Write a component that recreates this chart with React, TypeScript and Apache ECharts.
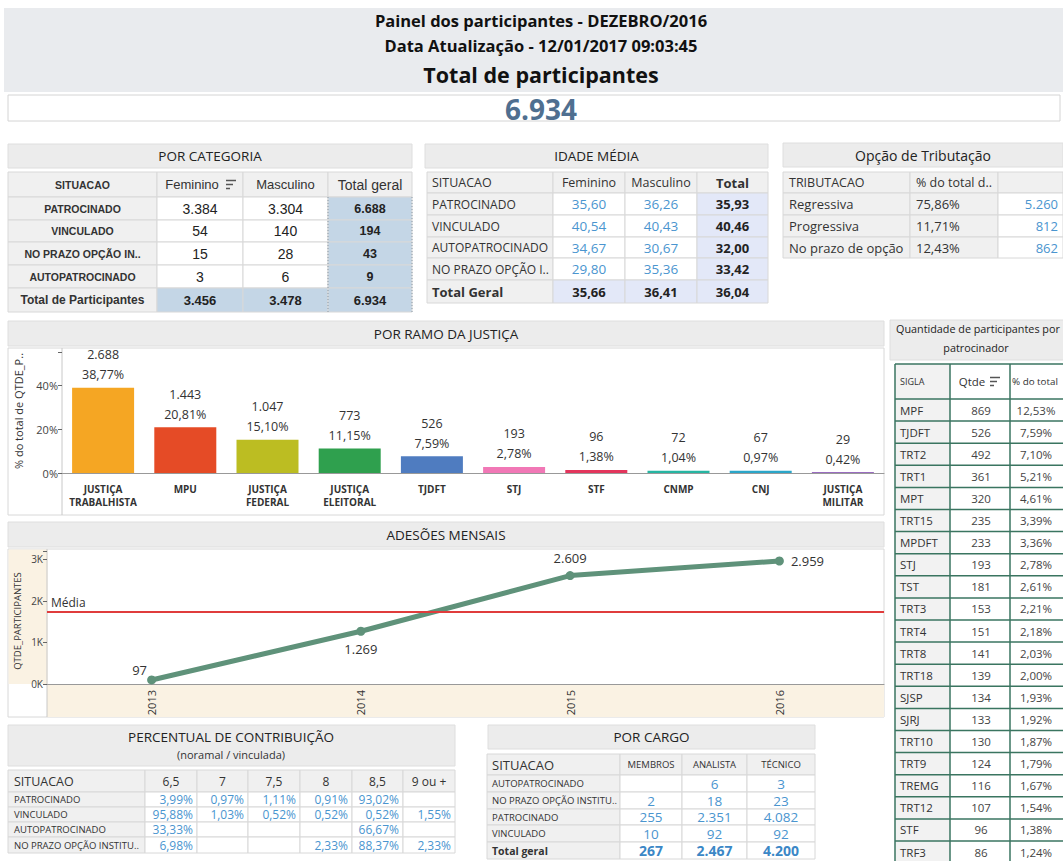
import React, { useEffect, useRef } from 'react';
import * as echarts from 'echarts';

// ---------- DATA ----------
const headerTitle = 'Painel dos participantes - DEZEBRO/2016';
const headerDate = 'Data Atualização - 12/01/2017 09:03:45';
const headerTotalLabel = 'Total de participantes';
const totalParticipantes = 6934;

// POR CATEGORIA
const catHeaders = ['SITUACAO', 'Feminino', 'Masculino', 'Total geral'];
const catSituacao = ['PATROCINADO', 'VINCULADO', 'NO PRAZO OPÇÃO IN..', 'AUTOPATROCINADO'];
const catFeminino = [3384, 54, 15, 3];
const catMasculino = [3304, 140, 28, 6];
const catTotal = [6688, 194, 43, 9];
const catTotalLabel = 'Total de Participantes';
const catTotalRow = [3456, 3478, 6934];

// IDADE MÉDIA
const idadeHeaders = ['SITUACAO', 'Feminino', 'Masculino', 'Total'];
const idadeSituacao = ['PATROCINADO', 'VINCULADO', 'AUTOPATROCINADO', 'NO PRAZO OPÇÃO I..'];
const idadeFeminino = [35.6, 40.54, 34.67, 29.8];
const idadeMasculino = [36.26, 40.43, 30.67, 35.36];
const idadeTotal = [35.93, 40.46, 32.0, 33.42];
const idadeTotalLabel = 'Total Geral';
const idadeTotalRow = [35.66, 36.41, 36.04];

// OPÇÃO DE TRIBUTAÇÃO
const tribHeaders = ['TRIBUTACAO', '% do total d..', ''];
const tribTipos = ['Regressiva', 'Progressiva', 'No prazo de opção'];
const tribPct = [75.86, 11.71, 12.43];
const tribQtde = [5260, 812, 862];

// POR RAMO DA JUSTIÇA
const ramoCategorias = ['JUSTIÇA\nTRABALHISTA', 'MPU', 'JUSTIÇA\nFEDERAL', 'JUSTIÇA\nELEITORAL', 'TJDFT', 'STJ', 'STF', 'CNMP', 'CNJ', 'JUSTIÇA\nMILITAR'];
const ramoQtde = [2688, 1443, 1047, 773, 526, 193, 96, 72, 67, 29];
const ramoPct = [38.77, 20.81, 15.1, 11.15, 7.59, 2.78, 1.38, 1.04, 0.97, 0.42];
const ramoYTicks = [0, 20, 40];

// ADESÕES MENSAIS
const adesaoAnos = ['2013', '2014', '2015', '2016'];
const adesaoQtde = [97, 1269, 2609, 2959];
const adesaoYTicks = [0, 1000, 2000, 3000];

// PERCENTUAL DE CONTRIBUIÇÃO
const contribHeaders = ['SITUACAO', '6,5', '7', '7,5', '8', '8,5', '9 ou +'];
const contribSituacao = ['PATROCINADO', 'VINCULADO', 'AUTOPATROCINADO', 'NO PRAZO OPÇÃO INSTITU..'];
const contribPatrocinado = [3.99, 0.97, 1.11, 0.91, 93.02, null];
const contribVinculado = [95.88, 1.03, 0.52, 0.52, 0.52, 1.55];
const contribAutopatrocinado = [33.33, null, null, null, 66.67, null];
const contribNoPrazo = [6.98, null, null, 2.33, 88.37, 2.33];

// POR CARGO
const cargoHeaders = ['SITUACAO', 'MEMBROS', 'ANALISTA', 'TÉCNICO'];
const cargoSituacao = ['AUTOPATROCINADO', 'NO PRAZO OPÇÃO INSTITU..', 'PATROCINADO', 'VINCULADO'];
const cargoMembros = [null, 2, 255, 10];
const cargoAnalista = [6, 18, 2351, 92];
const cargoTecnico = [3, 23, 4082, 92];
const cargoTotalLabel = 'Total geral';
const cargoTotalRow = [267, 2467, 4200];

// PARTICIPANTES POR PATROCINADOR
const patrHeaders = ['SIGLA', 'Qtde', '% do total'];
const patrSigla = ['MPF', 'TJDFT', 'TRT2', 'TRT1', 'MPT', 'TRT15', 'MPDFT', 'STJ', 'TST', 'TRT3', 'TRT4', 'TRT8', 'TRT18', 'SJSP', 'SJRJ', 'TRT10', 'TRT9', 'TREMG', 'TRT12', 'STF', 'TRF3'];
const patrQtde = [869, 526, 492, 361, 320, 235, 233, 193, 181, 153, 151, 141, 139, 134, 133, 130, 124, 116, 107, 96, 86];
const patrPct = [12.53, 7.59, 7.1, 5.21, 4.61, 3.39, 3.36, 2.78, 2.61, 2.21, 2.18, 2.03, 2.0, 1.93, 1.92, 1.87, 1.79, 1.67, 1.54, 1.38, 1.24];

// ---------- STYLE ----------
const FONT = "'Open Sans', 'Noto Sans', sans-serif";
const ARIAL = "'Liberation Sans', Arial, sans-serif";
const BLUE = '#4a95cf';
const TXT = '#333333';
const GREY = '#f0f0f0';
const BARBG = '#ececec';
const BORDER = '#d8d8d8';
const ramoColors = ['#f5a623', '#e54b26', '#bcbd22', '#2fa04e', '#4f7cc0', '#f178b6', '#e3355c', '#26b5a2', '#2ba6c9', '#9a6cc0'];

const fmtInt = (n: number) => String(n).replace(/\B(?=(\d{3})+(?!\d))/g, '.');
const fmtDec = (n: number) => n.toFixed(2).replace('.', ',');
const fmtPct = (n: number) => fmtDec(n) + '%';

function buildGraphics() {
  const G: any[] = [];
  const R = (x: number, y: number, w: number, h: number, fill: string, stroke = 'none', lw = 1) =>
    G.push({ type: 'rect', shape: { x, y, width: w, height: h }, style: { fill, stroke, lineWidth: lw } });
  const L = (x1: number, y1: number, x2: number, y2: number, stroke: string, lw = 1, dash?: number[]) =>
    G.push({ type: 'line', shape: { x1, y1, x2, y2 }, style: { stroke, lineWidth: lw, lineDash: dash } });
  const T = (x: number, y: number, text: string, size: number, o: any = {}) =>
    G.push({
      type: 'text', x, y, rotation: o.rot || 0,
      style: {
        text, fill: o.color || TXT, fontSize: size, fontWeight: o.bold ? 'bold' : 'normal',
        fontFamily: o.font || FONT, align: o.align || 'center', verticalAlign: 'middle',
      },
    });
  const titleBar = (x: number, y: number, w: number, h: number, text: string, size = 13.5) => {
    R(x, y, w, h, BARBG, '#dedede');
    T(x + w / 2, y + h / 2, text, size, { color: '#222' });
  };
  const sortIcon = (x: number, y: number, c = '#555') => {
    L(x, y, x + 10, y, c, 1.5);
    L(x, y + 4, x + 7, y + 4, c, 1.5);
    L(x, y + 8, x + 4, y + 8, c, 1.5);
  };

  // Header
  R(4, 8, 1059, 84, '#e9ebee');
  T(541, 20, headerTitle, 16.5, { bold: true, color: '#111' });
  T(541, 45, headerDate, 16.5, { bold: true, color: '#111' });
  T(541, 74, headerTotalLabel, 21.5, { bold: true, color: '#111' });
  R(8, 95, 1052, 26, '#ffffff', '#d4d4d4');
  T(541, 109, fmtInt(totalParticipantes), 28, { bold: true, color: '#4f6f90' });

  // POR CATEGORIA
  titleBar(8, 144, 404, 24, 'POR CATEGORIA');
  {
    const cx = [8, 157, 243, 328, 412];
    const cy = [172, 197, 220, 242, 265, 288, 312];
    const LB = '#c4d6e6';
    for (let r = 0; r < 6; r++)
      for (let c = 0; c < 4; c++) {
        let fill = '#ffffff';
        if (r === 0 || c === 0) fill = GREY;
        if (r > 0 && c === 3) fill = LB;
        if (r === 5 && c > 0) fill = LB;
        R(cx[c], cy[r], cx[c + 1] - cx[c], cy[r + 1] - cy[r], fill, BORDER);
      }
    L(328, 197, 328, 312, '#8a9aa8', 1, [1, 2]);
    L(412, 197, 412, 312, '#8a9aa8', 1, [1, 2]);
    const mx = (c: number) => (cx[c] + cx[c + 1]) / 2;
    const my = (r: number) => (cy[r] + cy[r + 1]) / 2;
    T(mx(0), my(0), catHeaders[0], 10.5, { bold: true, font: ARIAL });
    T(mx(1) - 8, my(0), catHeaders[1], 13, { font: ARIAL });
    sortIcon(226, my(0) - 4);
    T(mx(2), my(0), catHeaders[2], 13, { font: ARIAL });
    T(mx(3), my(0), catHeaders[3], 14, { font: ARIAL });
    catSituacao.forEach((s, i) => {
      T(mx(0), my(i + 1), s, 10.5, { bold: true, font: ARIAL });
      T(mx(1), my(i + 1), fmtInt(catFeminino[i]), 14, { font: ARIAL, color: '#222' });
      T(mx(2), my(i + 1), fmtInt(catMasculino[i]), 14, { font: ARIAL, color: '#222' });
      T(mx(3), my(i + 1), fmtInt(catTotal[i]), 12.5, { font: ARIAL, bold: true, color: '#222' });
    });
    T(mx(0), my(5), catTotalLabel, 12, { bold: true, font: ARIAL });
    catTotalRow.forEach((v, i) => T(mx(i + 1), my(5), fmtInt(v), 13, { bold: true, font: ARIAL, color: '#222' }));
  }

  // IDADE MÉDIA
  titleBar(425, 144, 343, 24, 'IDADE MÉDIA');
  {
    const cx = [427, 553, 625, 697, 768];
    const cy = [172, 193, 215, 237, 258, 280, 303];
    const LV = '#e3e8f8';
    for (let r = 0; r < 6; r++)
      for (let c = 0; c < 4; c++) {
        let fill = '#ffffff';
        if (r === 0 || c === 0) fill = GREY;
        if (r > 0 && c === 3) fill = LV;
        if (r === 5 && c > 0) fill = LV;
        R(cx[c], cy[r], cx[c + 1] - cx[c], cy[r + 1] - cy[r], fill, BORDER);
      }
    const mx = (c: number) => (cx[c] + cx[c + 1]) / 2;
    const my = (r: number) => (cy[r] + cy[r + 1]) / 2;
    T(432, my(0), idadeHeaders[0], 12.5, { align: 'left' });
    T(mx(1), my(0), idadeHeaders[1], 12.5);
    T(mx(2), my(0), idadeHeaders[2], 12.5);
    T(mx(3), my(0), idadeHeaders[3], 13, { bold: true });
    idadeSituacao.forEach((s, i) => {
      T(432, my(i + 1), s, 12, { align: 'left' });
      T(mx(1), my(i + 1), fmtDec(idadeFeminino[i]), 13.5, { color: BLUE });
      T(mx(2), my(i + 1), fmtDec(idadeMasculino[i]), 13.5, { color: BLUE });
      T(mx(3), my(i + 1), fmtDec(idadeTotal[i]), 13, { bold: true, color: '#222' });
    });
    T(432, my(5), idadeTotalLabel, 13, { align: 'left', bold: true });
    idadeTotalRow.forEach((v, i) => T(mx(i + 1), my(5), fmtDec(v), 13, { bold: true, color: '#222' }));
  }

  // OPÇÃO DE TRIBUTAÇÃO
  titleBar(783, 143, 280, 24, 'Opção de Tributação', 14);
  {
    const cx = [783, 910, 998, 1063];
    const cy = [172, 193, 215, 237, 258];
    for (let r = 0; r < 4; r++)
      for (let c = 0; c < 3; c++) {
        const fill = r > 0 && c === 2 ? '#ffffff' : GREY;
        R(cx[c], cy[r], cx[c + 1] - cx[c], cy[r + 1] - cy[r], fill, BORDER);
      }
    const my = (r: number) => (cy[r] + cy[r + 1]) / 2;
    T(789, my(0), tribHeaders[0], 12.5, { align: 'left' });
    T(916, my(0), tribHeaders[1], 12.5, { align: 'left' });
    tribTipos.forEach((s, i) => {
      T(789, my(i + 1), s, 13, { align: 'left' });
      T(916, my(i + 1), fmtPct(tribPct[i]), 13, { align: 'left' });
      T(1058, my(i + 1), fmtInt(tribQtde[i]), 13, { align: 'right', color: BLUE });
    });
  }

  // POR RAMO DA JUSTIÇA panel
  titleBar(8, 321, 876, 25, 'POR RAMO DA JUSTIÇA');
  R(8, 348, 876, 167, '#ffffff', BORDER);
  L(62, 348, 62, 515, '#c8c8c8');
  T(18, 411, '% do total de QTDE_P..', 11, { rot: Math.PI / 2 });

  // ADESÕES MENSAIS panel
  titleBar(8, 522, 876, 25, 'ADESÕES MENSAIS');
  R(8, 549, 876, 168, '#ffffff', BORDER);
  R(8.5, 549.5, 39, 134.5, '#faf2e3');
  R(47, 684, 837, 33, '#faf2e3');
  L(47, 549, 47, 717, '#c8c8c8');
  T(17, 621, 'QTDE_PARTICIPANTES', 9.5, { rot: Math.PI / 2 });

  // PERCENTUAL DE CONTRIBUIÇÃO
  R(8, 725, 447, 41, BARBG, '#dedede');
  T(231, 737, 'PERCENTUAL DE CONTRIBUIÇÃO', 13.5, { color: '#222' });
  T(231, 754, '(noramal / vinculada)', 11, { color: '#333' });
  {
    const cx = [8, 145, 197, 248, 300, 352, 403, 455];
    const cy = [770, 792, 807, 822, 837, 853];
    for (let r = 0; r < 5; r++)
      for (let c = 0; c < 7; c++) {
        const fill = r === 0 || c === 0 ? GREY : '#ffffff';
        R(cx[c], cy[r], cx[c + 1] - cx[c], cy[r + 1] - cy[r], fill, BORDER);
      }
    const mx = (c: number) => (cx[c] + cx[c + 1]) / 2;
    const my = (r: number) => (cy[r] + cy[r + 1]) / 2;
    T(14, my(0), contribHeaders[0], 12.5, { align: 'left' });
    for (let c = 1; c < 7; c++) T(mx(c), my(0), contribHeaders[c], 12);
    const rows = [contribPatrocinado, contribVinculado, contribAutopatrocinado, contribNoPrazo];
    contribSituacao.forEach((s, i) => {
      T(14, my(i + 1), s, 9.5, { align: 'left' });
      rows[i].forEach((v, c) => {
        if (v !== null) T(cx[c + 2] - 4, my(i + 1), fmtPct(v as number), 12, { align: 'right', color: BLUE });
      });
    });
  }

  // POR CARGO
  titleBar(488, 725, 327, 24, 'POR CARGO');
  {
    const cx = [487, 620, 682, 747, 815];
    const cy = [754, 775, 792, 809, 825, 842, 859];
    for (let r = 0; r < 6; r++)
      for (let c = 0; c < 4; c++) {
        const fill = r === 0 || c === 0 ? GREY : '#ffffff';
        R(cx[c], cy[r], cx[c + 1] - cx[c], cy[r + 1] - cy[r], fill, BORDER);
      }
    const mx = (c: number) => (cx[c] + cx[c + 1]) / 2;
    const my = (r: number) => (cy[r] + cy[r + 1]) / 2;
    T(492, my(0), cargoHeaders[0], 13, { align: 'left' });
    for (let c = 1; c < 4; c++) T(mx(c), my(0), cargoHeaders[c], 9.5);
    cargoSituacao.forEach((s, i) => {
      T(492, my(i + 1), s, 9.5, { align: 'left' });
      [cargoMembros[i], cargoAnalista[i], cargoTecnico[i]].forEach((v, c) => {
        if (v !== null) T(mx(c + 1), my(i + 1), fmtInt(v as number), 13.5, { color: BLUE });
      });
    });
    T(492, my(5), cargoTotalLabel, 10.5, { align: 'left', bold: true });
    cargoTotalRow.forEach((v, c) => T(mx(c + 1), my(5), fmtInt(v), 14, { bold: true, color: '#3b87c6' }));
  }

  // PARTICIPANTES POR PATROCINADOR
  R(890, 320, 180, 40, BARBG, '#dedede');
  T(896, 328, 'Quantidade de participantes por', 10.8, { align: 'left', color: '#222' });
  T(976, 347, 'patrocinador', 10.8, { color: '#222' });
  {
    const cx = [895, 950, 1010, 1080];
    const top = 364;
    const hh = 35;
    const rh = 22.1;
    const GREEN = '#3a7560';
    R(cx[0], top, cx[1] - cx[0], hh + rh * patrSigla.length, '#f2f2f2');
    R(cx[1], top, cx[3] - cx[1], hh + rh * patrSigla.length, '#ffffff');
    const yBottom = top + hh + rh * patrSigla.length;
    cx.forEach((x) => L(x, top, x, yBottom, GREEN, 1.5));
    L(cx[0], top, cx[3], top, GREEN, 1.5);
    for (let i = 0; i <= patrSigla.length; i++) {
      const y = top + hh + rh * i;
      L(cx[0], y, cx[3], y, GREEN, 1.5);
    }
    const hy = top + hh / 2;
    T(900, hy, patrHeaders[0], 9, { align: 'left' });
    T(972, hy, patrHeaders[1], 11.5);
    sortIcon(990, hy - 4);
    T(1012, hy, patrHeaders[2], 9.8, { align: 'left' });
    patrSigla.forEach((s, i) => {
      const y = top + hh + rh * i + rh / 2;
      T(900, y, s, 11.5, { align: 'left' });
      T(981, y, fmtInt(patrQtde[i]), 11.5, { color: '#444' });
      T(1036, y, fmtPct(patrPct[i]), 11.5, { color: '#444' });
    });
  }
  return G;
}

function buildOption(): any {
  const media = adesaoQtde.reduce((a, b) => a + b, 0) / adesaoQtde.length;
  const labelPos = ['top', 'bottom', 'top', 'right'];
  const labelOffset = [[-12, 8], [0, 0], [0, 0], [0, 0]];
  return {
    animation: false,
    backgroundColor: '#ffffff',
    textStyle: { fontFamily: FONT },
    graphic: { elements: buildGraphics() },
    grid: [
      { left: 62, top: 352, width: 822, height: 121 },
      { left: 47, top: 551, width: 837, height: 133 },
    ],
    xAxis: [
      {
        gridIndex: 0, type: 'category', data: ramoCategorias,
        axisLine: { lineStyle: { color: '#999' } },
        axisTick: { length: 6, lineStyle: { color: '#999' } },
        axisLabel: { interval: 0, fontSize: 10, fontWeight: 'bold', color: '#333', lineHeight: 13, margin: 9, fontFamily: FONT },
      },
      {
        gridIndex: 1, type: 'category', data: adesaoAnos,
        axisLine: { lineStyle: { color: '#999' } },
        axisTick: { length: 5, lineStyle: { color: '#888' } },
        axisLabel: { rotate: 90, fontSize: 11, color: '#333', margin: 6, fontFamily: FONT },
      },
    ],
    yAxis: [
      {
        gridIndex: 0, type: 'value', min: 0, max: 55, interval: 20,
        axisLine: { show: false }, splitLine: { show: false },
        axisTick: { show: true, length: 4, lineStyle: { color: '#666' } },
        axisLabel: {
          fontSize: 11, color: '#444', margin: 4,
          formatter: (v: number) => (ramoYTicks.includes(v) ? v + '%' : ''),
        },
      },
      {
        gridIndex: 1, type: 'value', min: 0, max: 3200, interval: 1000,
        axisLine: { show: false }, splitLine: { show: false },
        axisTick: { show: true, length: 4, lineStyle: { color: '#666' } },
        axisLabel: {
          fontSize: 10, color: '#444', margin: 4,
          formatter: (v: number) => (adesaoYTicks.includes(v) ? v / 1000 + 'K' : ''),
        },
      },
    ],
    series: [
      {
        type: 'bar', xAxisIndex: 0, yAxisIndex: 0, barWidth: 62,
        data: ramoPct.map((v, i) => ({ value: v, itemStyle: { color: ramoColors[i] } })),
        label: {
          show: true, position: 'top', distance: 3, color: '#333', fontSize: 12.5, lineHeight: 20,
          formatter: (p: any) => fmtInt(ramoQtde[p.dataIndex]) + '\n' + fmtPct(ramoPct[p.dataIndex]),
        },
      },
      {
        type: 'line', xAxisIndex: 1, yAxisIndex: 1,
        data: adesaoQtde.map((v, i) => ({ value: v, label: { position: labelPos[i], offset: labelOffset[i] } })),
        lineStyle: { color: '#5f927a', width: 5 },
        itemStyle: { color: '#5f927a' },
        symbol: 'circle', symbolSize: 9,
        label: { show: true, color: '#333', fontSize: 13, distance: 7, formatter: (p: any) => fmtInt(p.value) },
        markLine: {
          silent: true, symbol: 'none',
          lineStyle: { color: '#e03c3c', width: 2, type: 'solid' },
          label: { position: 'insideStartTop', formatter: 'Média', color: '#333', fontSize: 12, distance: [4, 3] },
          data: [{ yAxis: media }],
        },
      },
    ],
  };
}

export default function App() {
  const ref = useRef<HTMLDivElement>(null);
  useEffect(() => {
    const chart = echarts.init(ref.current!, null, { renderer: 'svg' });
    chart.setOption(buildOption());
    return () => chart.dispose();
  }, []);
  return (
    <div
      ref={ref}
      style={{ position: 'absolute', left: 0, top: 0, width: 1063, height: 861, background: '#fff' }}
    />
  );
}
